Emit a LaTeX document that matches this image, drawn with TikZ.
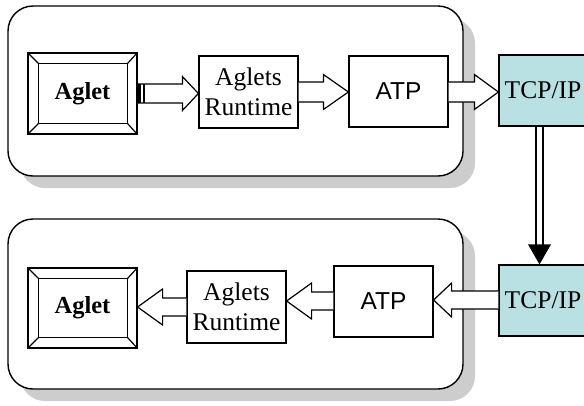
\documentclass[tikz,border=0pt]{standalone}
\usepackage{fontspec}
\setmainfont{Liberation Serif}
\newfontfamily\arialfont{Liberation Sans}
\usetikzlibrary{calc}
\definecolor{tcpfill}{RGB}{185,224,226}
\definecolor{shadowgray}{RGB}{205,205,205}
\newcommand\blockarr[6]{%
  \filldraw[arrowbox] let \p1=(#1), \p2=(#2), \p3=(0,#3) in
   ({\x1},{\y3+#4}) -- ({\x2-(#6)},{\y3+#4}) -- ({\x2-(#6)},{\y3+#5}) -- ({\x2},{\y3})
   -- ({\x2-(#6)},{\y3-#5}) -- ({\x2-(#6)},{\y3-#4}) -- ({\x1},{\y3-#4});}
\newcommand\agletbevel[1]{%
  \draw[bevel] ($(#1.north west)+(11,11)$) rectangle ($(#1.south east)+(-10,-11)$);
  \draw[bevel] (#1.north west) -- ($(#1.north west)+(11,11)$);
  \draw[bevel] (#1.north east) -- ($(#1.north east)+(-10,11)$);
  \draw[bevel] (#1.south west) -- ($(#1.south west)+(11,-11)$);
  \draw[bevel] (#1.south east) -- ($(#1.south east)+(-10,-11)$);}
\tikzset{
  box/.style={draw, line width=1.2pt, minimum width=99pt, minimum height=72pt,
    inner sep=0pt, align=center, fill=white},
  agletbox/.style={box, minimum width=109pt, minimum height=81pt,
    font=\fontsize{24.5}{29}\selectfont\bfseries},
  serifbox/.style={box, font=\fontsize{25.5}{30}\selectfont},
  sansbox/.style={box, minimum height=71pt, font=\fontsize{24.5}{29}\selectfont\arialfont},
  tcpbox/.style={box, fill=tcpfill, minimum width=88pt, minimum height=71pt,
    font=\fontsize{25.5}{29}\selectfont},
  bevel/.style={line width=1.2pt},
  arrowbox/.style={draw, fill=white, line width=1.2pt, line join=miter},
  container/.style={draw, fill=white, line width=1.4pt, rounded corners=25pt},
  shadowbox/.style={fill=shadowgray, rounded corners=25pt},
  dline/.style={line width=1.4pt}
}
\begin{document}
\begin{tikzpicture}[x=1pt,y=-1pt]
\useasboundingbox (0,0) rectangle (584,405);
\clip (0,0) rectangle (584,405);
% containers
\fill[shadowbox] (20,18) rectangle (475,188);
\draw[container] (8,6) rectangle (463,176);
\fill[shadowbox] (20,231) rectangle (475,401);
\draw[container] (8,219) rectangle (463,389);
% top row
\node[agletbox] (ta) at (82.5,93.5) {Aglet};
\agletbevel{ta}
\node[serifbox] (tr) at (248.5,92) {Aglets\\Runtime};
\node[sansbox] (tp) at (398.5,91.5) {ATP};
\node[tcpbox] (tt) at (543,90.5) {TCP/IP};
% bottom row
\node[agletbox, minimum height=80pt] (ba) at (82.5,308) {Aglet};
\agletbevel{ba}
\node[serifbox] (br) at (236.5,307) {Aglets\\Runtime};
\node[sansbox] (bp) at (383.5,301.5) {ATP};
\node[tcpbox] (bt) at (543,300.5) {TCP/IP};
% block arrows
\blockarr{ta.east}{tr.west}{93.5}{9.5pt}{17pt}{16pt}
\fill ($(ta.east)+(-2,-9.5)$) rectangle ($(ta.east)+(3.5,9.5)$);
\draw[line width=1.4pt] ($(ta.east)+(6.5,-9.5)$) -- ($(ta.east)+(6.5,9.5)$);
\blockarr{tr.east}{tp.west}{92}{10pt}{17.5pt}{25pt}
\blockarr{tp.east}{tt.west}{92}{10pt}{17.5pt}{24pt}
\blockarr{bt.west}{bp.east}{300}{9pt}{17pt}{-18pt}
\blockarr{bp.west}{br.east}{301}{9pt}{18pt}{-25pt}
\blockarr{br.west}{ba.east}{307}{9pt}{18pt}{-25pt}
% vertical double arrow
\draw[dline] ($(tt.south)+(-7,0)$) -- ($(bt.north)+(-7,-18)$);
\draw[dline] ($(tt.south)+(0,0)$) -- ($(bt.north)+(0,-18)$);
\fill ($(bt.north)+(-3.5,0)$) -- ++(-11.5,-20) -- ++(23,0) -- cycle;
\end{tikzpicture}
\end{document}
